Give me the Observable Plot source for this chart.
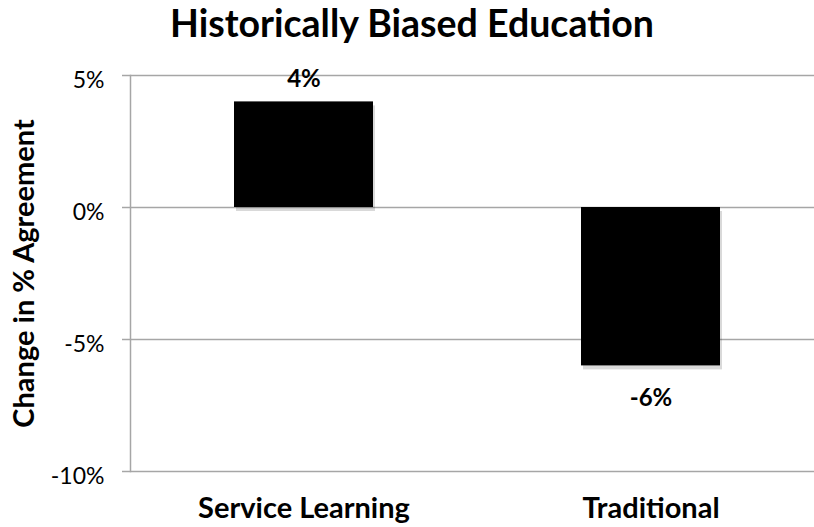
<!DOCTYPE html>
<html>
<head>
<meta charset="utf-8">
<script src="https://cdn.jsdelivr.net/npm/d3@7"></script>
<script src="https://cdn.jsdelivr.net/npm/@observablehq/plot@0.6"></script>
<style>
  html, body { margin: 0; padding: 0; background: #fff; }
  #wrap { width: 814px; height: 527px; position: relative; font-family: Lato, "Open Sans", sans-serif; }
  #title { height: 50px; line-height: 1.2; font-size: 37.5px; font-weight: bold; text-align: center; padding-left: 10px; box-sizing: border-box; width: 814px; color: #000; overflow: visible; white-space: nowrap; }
  svg { display: block; overflow: visible; }
</style>
</head>
<body>
<div id="wrap">
  <div id="title">Historically Biased Education</div>
  <div id="chart"></div>
</div>
<script>
const categories = ["Service Learning", "Traditional"];
const values = [0.04, -0.06];
const valueLabels = ["4%", "-6%"];
const yTicks = [0.05, 0, -0.05, -0.10];
const yTickLabels = ["5%", "0%", "-5%", "-10%"];
const yTitle = "Change in % Agreement";

const data = categories.map((c, i) => ({category: c, value: values[i], label: valueLabels[i]}));
const ticks = yTicks.map((t, i) => ({value: t, label: yTickLabels[i]}));

const plot = Plot.plot({
  width: 814,
  height: 477,
  marginTop: 25,
  marginBottom: 56,
  marginLeft: 130,
  marginRight: 0,
  style: {fontFamily: "Lato, 'Open Sans', sans-serif", color: "#000", background: "#fff", overflow: "visible"},
  x: {domain: categories, range: [130, 824], paddingInner: 0.6, paddingOuter: 0.3, label: null},
  y: {domain: [-0.10, 0.05], label: null},
  marks: [
    Plot.ruleY(yTicks, {stroke: "#a6a6a6", strokeWidth: 1.5}),
    Plot.frame({anchor: "left", stroke: "#a6a6a6", strokeWidth: 1.5}),
    Plot.axisY({ticks: yTicks, tickSize: 8, stroke: "#a6a6a6", strokeWidth: 1.5, text: null, label: null}),
    Plot.text(ticks, {y: "value", text: "label", frameAnchor: "left", textAnchor: "end", dx: -26, dy: 5, fontSize: 23, fill: "#000"}),
    Plot.axisX({tickSize: 0, tickPadding: 26, fontSize: 29, fontWeight: "bold", fill: "#000", label: null}),
    Plot.barY(data, {x: "category", y: "value", fill: "#000", fillOpacity: 0.15, dx: 2, dy: 4}),
    Plot.barY(data, {x: "category", y: "value", fill: "#000"}),
    Plot.text(data.filter(d => d.value >= 0), {x: "category", y: "value", text: "label", dy: -23, fontSize: 24, fontWeight: "bold", fill: "#000"}),
    Plot.text(data.filter(d => d.value < 0), {x: "category", y: "value", text: "label", dy: 32, fontSize: 24, fontWeight: "bold", fill: "#000"}),
    Plot.text([yTitle], {frameAnchor: "left", text: d => d, rotate: -90, textAnchor: "middle", dx: -106, fontSize: 29, fontWeight: "bold", fill: "#000"})
  ]
});
document.getElementById("chart").appendChild(plot);
</script>
</body>
</html>
